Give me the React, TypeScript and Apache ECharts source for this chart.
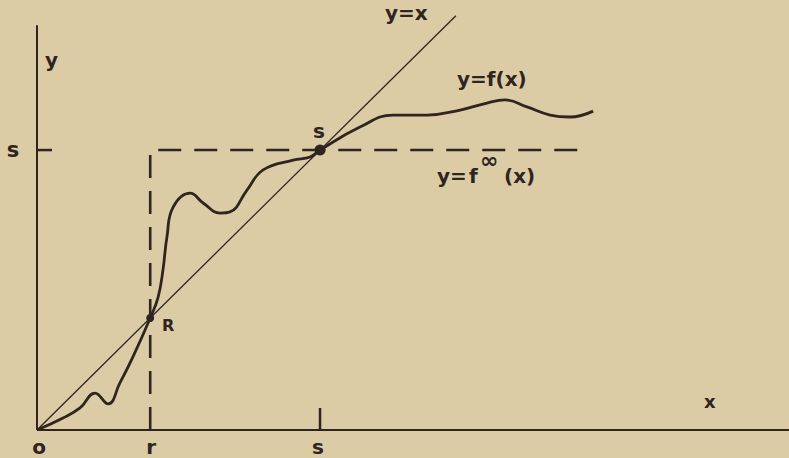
import React, { useEffect, useRef } from "react";
import * as echarts from "echarts";

// f(x) curve (units: s = 10)
const CURVE_X = [0, 0.92, 1.52, 2.05, 2.51, 2.93, 3.39, 4.0, 4.28, 4.45, 4.59, 4.81, 5.41, 5.87, 6.47, 6.82, 7.42, 7.99, 9.05, 9.65, 10.0, 11.41, 12.58, 13.78, 14.95, 15.9, 16.54, 17.31, 18.13, 18.83, 19.65];
const CURVE_Y = [0, 0.43, 0.79, 1.32, 0.93, 1.68, 2.61, 4.0, 4.75, 5.71, 6.89, 7.96, 8.46, 8.11, 7.75, 7.79, 8.57, 9.29, 9.64, 9.75, 10.0, 10.82, 11.25, 11.25, 11.43, 11.68, 11.79, 11.54, 11.25, 11.18, 11.39];

const R_VAL = 4;
const S_VAL = 10;
const X_MAX = 26.57;
const Y_MAX = 15.36;
const Y_AXIS_TOP = 14.46;
const DIAG_END = 14.8;
const STEP_END = 19.36;

const X_TICK_LABELS = ["o", "r", "s"];
const X_TICK_VALUES = [0, R_VAL, S_VAL];
const X_TICK_OFFSETS = [[2, 17], [1, 17], [-2, 17]];

const INK = "#2f2420";
const BG = "#dbcca6";
const FONT = "DejaVu Sans";

export default function App() {
  const ref = useRef<HTMLDivElement>(null);
  useEffect(() => {
    if (!ref.current) return;
    const chart = echarts.init(ref.current, undefined, { renderer: "svg" });
    const curve = CURVE_X.map((x, i) => [x, CURVE_Y[i]]);
    const lbl = (offset: number[], size = 20) => ({
      show: true,
      position: "inside",
      offset,
      color: INK,
      fontFamily: FONT,
      fontWeight: "bold",
      fontSize: size,
      textBorderWidth: 0,
    });
    const txt = (x: number, y: number, text: string, size = 20) => ({
      type: "text",
      x,
      y,
      style: {
        text,
        fill: INK,
        font: `bold ${size}px "${FONT}"`,
        verticalAlign: "middle",
        align: "left",
      },
    });
    chart.setOption({
      animation: false,
      backgroundColor: BG,
      grid: { left: 37, right: 0, top: 0, bottom: 28 },
      xAxis: { type: "value", min: 0, max: X_MAX, show: false },
      yAxis: { type: "value", min: 0, max: Y_MAX, show: false },
      series: [
        { type: "line", data: [[0, 0], [X_MAX, 0]], symbol: "none", lineStyle: { color: INK, width: 2 } },
        { type: "line", data: [[0, 0], [0, Y_AXIS_TOP]], symbol: "none", lineStyle: { color: INK, width: 2 } },
        { type: "line", data: [[0, S_VAL], [0.53, S_VAL]], symbol: "none", lineStyle: { color: INK, width: 2.5 } },
        { type: "line", data: [[S_VAL, 0], [S_VAL, 0.79]], symbol: "none", lineStyle: { color: INK, width: 2.5 } },
        { type: "line", data: [[0, 0], [DIAG_END, DIAG_END]], symbol: "none", lineStyle: { color: INK, width: 1.3 } },
        {
          type: "line",
          data: [[R_VAL, 0], [R_VAL, S_VAL], [STEP_END, S_VAL]],
          symbol: "none",
          lineStyle: { color: INK, width: 2.6, type: [23, 13] },
        },
        { type: "line", data: curve, symbol: "none", smooth: 0.45, lineStyle: { color: INK, width: 2.8 } },
        {
          type: "scatter",
          data: [
            { value: [R_VAL, R_VAL], symbolSize: 8 },
            { value: [S_VAL, S_VAL], symbolSize: 11 },
          ],
          itemStyle: { color: INK, opacity: 1 },
        },
        {
          type: "scatter",
          symbolSize: 1,
          itemStyle: { color: "rgba(0,0,0,0)", opacity: 1 },
          data: [
            ...X_TICK_VALUES.map((v, i) => ({ value: [v, 0], name: X_TICK_LABELS[i], label: lbl(X_TICK_OFFSETS[i]) })),
            { value: [0, S_VAL], name: "s", label: lbl([-24, 0], 21) },
            { value: [R_VAL, R_VAL], name: "R", label: lbl([18, 7], 16) },
            { value: [S_VAL, S_VAL], name: "s", label: lbl([-1, -19]) },
          ],
          label: { show: true, formatter: "{b}" },
          z: 10,
        },
      ],
      graphic: [
        txt(45, 60, "y"),
        txt(704, 401, "x", 18),
        txt(385, 12.5, "y=x"),
        txt(457, 78.5, "y=f(x)"),
        txt(437, 176, "y="),
        txt(469, 176, "f"),
        txt(480, 160, "∞", 22),
        txt(504, 176, "(x)"),
      ],
    });
    return () => chart.dispose();
  }, []);
  return <div ref={ref} style={{ position: "fixed", left: 0, top: 0, width: 789, height: 458 }} />;
}
